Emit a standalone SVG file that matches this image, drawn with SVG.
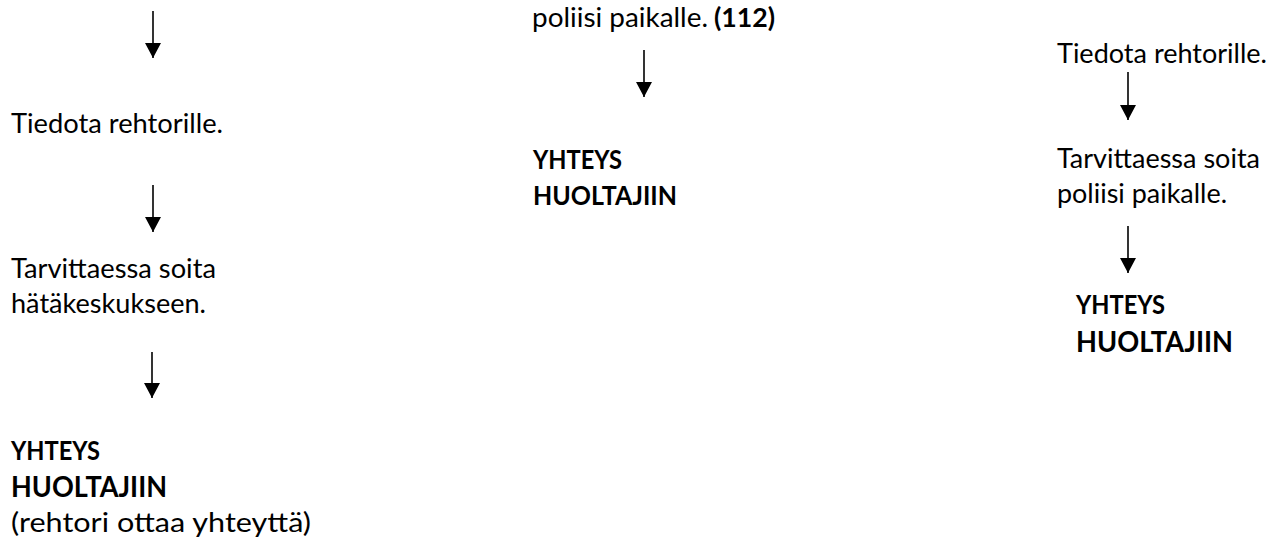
<svg xmlns="http://www.w3.org/2000/svg" width="1277" height="544" viewBox="0 0 1277 544">
  <defs>
    <marker id="ah" viewBox="0 0 15 16" refX="15" refY="8" markerWidth="15" markerHeight="16" markerUnits="userSpaceOnUse" orient="auto">
      <path d="M0,0 L15,8 L0,16 Z" fill="#000"/>
    </marker>
    <style>
      text { font-family: Lato, "Open Sans", "Liberation Sans", sans-serif; font-size: 27px; fill: #000; }
      .b { font-weight: bold; }
      .big { font-size: 28px; }
      .arr { stroke: #000; stroke-width: 1.6; fill: none; marker-end: url(#ah); }
    </style>
  </defs>
  <rect width="1277" height="544" fill="#fff"/>

  <g id="connectors">
    <line class="arr" x1="153" y1="11" x2="153" y2="58"/>
    <line class="arr" x1="153" y1="185" x2="153" y2="232"/>
    <line class="arr" x1="152" y1="352" x2="152" y2="398"/>
    <line class="arr" x1="644" y1="50" x2="644" y2="97"/>
    <line class="arr" x1="1128" y1="72" x2="1128" y2="120"/>
    <line class="arr" x1="1128" y1="226" x2="1128" y2="273"/>
  </g>

  <g id="left-tiedota">
    <text x="11" y="133" textLength="212" lengthAdjust="spacingAndGlyphs">Tiedota rehtorille.</text>
  </g>
  <g id="left-tarvittaessa">
    <text x="11" y="278" textLength="205" lengthAdjust="spacingAndGlyphs">Tarvittaessa soita</text>
    <text x="11" y="313" textLength="195" lengthAdjust="spacingAndGlyphs">hätäkeskukseen.</text>
  </g>
  <g id="left-yhteys">
    <text class="b" x="11" y="460" textLength="89" lengthAdjust="spacingAndGlyphs">YHTEYS</text>
    <text class="b big" x="11" y="497" textLength="156" lengthAdjust="spacingAndGlyphs">HUOLTAJIIN</text>
    <text x="11" y="532" textLength="300" lengthAdjust="spacingAndGlyphs">(rehtori ottaa yhteyttä)</text>
  </g>

  <g id="mid-poliisi">
    <text x="532" y="27" textLength="176" lengthAdjust="spacingAndGlyphs">poliisi paikalle.</text>
    <text class="b" x="714" y="27" textLength="61" lengthAdjust="spacingAndGlyphs">(112)</text>
  </g>
  <g id="mid-yhteys">
    <text class="b" x="533" y="169" textLength="89" lengthAdjust="spacingAndGlyphs">YHTEYS</text>
    <text class="b" x="533" y="205" textLength="144" lengthAdjust="spacingAndGlyphs">HUOLTAJIIN</text>
  </g>

  <g id="right-tiedota">
    <text x="1057" y="63" textLength="210" lengthAdjust="spacingAndGlyphs">Tiedota rehtorille.</text>
  </g>
  <g id="right-tarvittaessa">
    <text x="1057" y="168" textLength="203" lengthAdjust="spacingAndGlyphs">Tarvittaessa soita</text>
    <text x="1057" y="203" textLength="170" lengthAdjust="spacingAndGlyphs">poliisi paikalle.</text>
  </g>
  <g id="right-yhteys">
    <text class="b" x="1076" y="314" textLength="89" lengthAdjust="spacingAndGlyphs">YHTEYS</text>
    <text class="b big" x="1076" y="352" textLength="157" lengthAdjust="spacingAndGlyphs">HUOLTAJIIN</text>
  </g>
</svg>
